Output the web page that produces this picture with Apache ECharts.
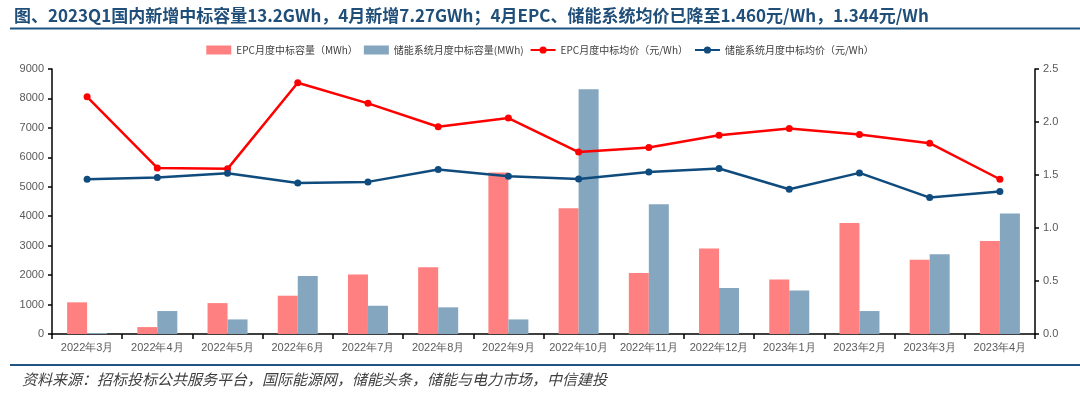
<!DOCTYPE html>
<html><head><meta charset="utf-8">
<script src="https://cdn.jsdelivr.net/npm/echarts@6/dist/echarts.min.js"></script>
<style>html,body{margin:0;padding:0;background:#fff}#c{width:1080px;height:396px}</style>
</head><body><div id="c"></div>
<script>
const categories = ['2022年3月','2022年4月','2022年5月','2022年6月','2022年7月','2022年8月','2022年9月','2022年10月','2022年11月','2022年12月','2023年1月','2023年2月','2023年3月','2023年4月'];
const epcCapacity = [1075, 235, 1050, 1300, 2025, 2265, 5485, 4270, 2070, 2900, 1855, 3770, 2525, 3160];
const storageCapacity = [35, 780, 495, 1970, 960, 905, 495, 8310, 4405, 1560, 1480, 780, 2705, 4090];
const epcPrice = [2.238, 1.567, 1.558, 2.37, 2.176, 1.955, 2.037, 1.716, 1.76, 1.876, 1.939, 1.883, 1.80, 1.460];
const storagePrice = [1.46, 1.476, 1.517, 1.425, 1.435, 1.552, 1.489, 1.463, 1.529, 1.561, 1.366, 1.52, 1.287, 1.344];
const leftTicks = [0, 9000, 1000];
const rightTicks = [0, 2.5, 0.5];

const chart = echarts.init(document.getElementById('c'));
const axisLabelStyle = {color:'#595959', fontSize:11, fontFamily:'Liberation Sans, Arial'};
chart.setOption({
  animation:false,
  title:{text:'图、2023Q1国内新增中标容量13.2GWh，4月新增7.27GWh；4月EPC、储能系统均价已降至1.460元/Wh，1.344元/Wh',
    left:9, top:2, textStyle:{color:'#1f4e79', fontSize:17, fontWeight:'bold', fontFamily:'Noto Sans CJK SC'}},
  graphic:[
    {type:'line', shape:{x1:10,y1:28.5,x2:1080,y2:28.5}, style:{stroke:'#1f5582', lineWidth:2}},
    {type:'line', shape:{x1:10,y1:365,x2:1080,y2:365}, style:{stroke:'#1f5582', lineWidth:2}},
    {type:'text', left:22, top:372, style:{text:'资料来源：招标投标公共服务平台，国际能源网，储能头条，储能与电力市场，中信建投', fill:'#404040', font:'italic 15px "Noto Sans CJK SC"'}}
  ],
  legend:{top:40, left:'center', itemWidth:25, itemHeight:9, itemGap:6,
    textStyle:{color:'#404040', fontSize:10, fontFamily:'Noto Sans CJK SC'},
    data:[{name:'EPC月度中标容量（MWh）', icon:'rect'},{name:'储能系统月度中标容量(MWh)', icon:'rect'},'EPC月度中标均价（元/Wh）','储能系统月度中标均价（元/Wh）']},
  grid:{left:52, right:45, top:69, bottom:62},
  xAxis:{type:'category', data:categories,
    axisLine:{lineStyle:{color:'#000', width:1.5}},
    axisTick:{show:true, interval:0, alignWithLabel:false, lineStyle:{color:'#000', width:1.5}, length:5},
    axisLabel:Object.assign({margin:8, interval:0}, axisLabelStyle)},
  yAxis:[
    {type:'value', min:leftTicks[0], max:leftTicks[1], interval:leftTicks[2],
     axisLine:{show:true, lineStyle:{color:'#000', width:1.5}},
     axisTick:{show:true, lineStyle:{color:'#000', width:1.5}, length:4},
     splitLine:{show:false}, axisLabel:Object.assign({margin:8, formatter:v=>String(v)}, axisLabelStyle)},
    {type:'value', min:rightTicks[0], max:rightTicks[1], interval:rightTicks[2],
     axisLine:{show:true, lineStyle:{color:'#000', width:1.5}},
     axisTick:{show:true, lineStyle:{color:'#000', width:1.5}, length:4},
     splitLine:{show:false},
     axisLabel:Object.assign({margin:8, formatter:v=>v.toFixed(1)}, axisLabelStyle)}
  ],
  series:[
    {name:'EPC月度中标容量（MWh）', type:'bar', data:epcCapacity, barWidth:20, barGap:'0%', itemStyle:{color:'#ff8080'}},
    {name:'储能系统月度中标容量(MWh)', type:'bar', data:storageCapacity, barWidth:20, barGap:'0%', itemStyle:{color:'#84a6bf'}},
    {name:'EPC月度中标均价（元/Wh）', type:'line', yAxisIndex:1, data:epcPrice, symbol:'circle', symbolSize:7,
     lineStyle:{color:'#ff0000', width:2.5}, itemStyle:{color:'#ff0000'}},
    {name:'储能系统月度中标均价（元/Wh）', type:'line', yAxisIndex:1, data:storagePrice, symbol:'circle', symbolSize:7,
     lineStyle:{color:'#0f4c7d', width:2.5}, itemStyle:{color:'#0f4c7d'}}
  ]
});
</script></body></html>
